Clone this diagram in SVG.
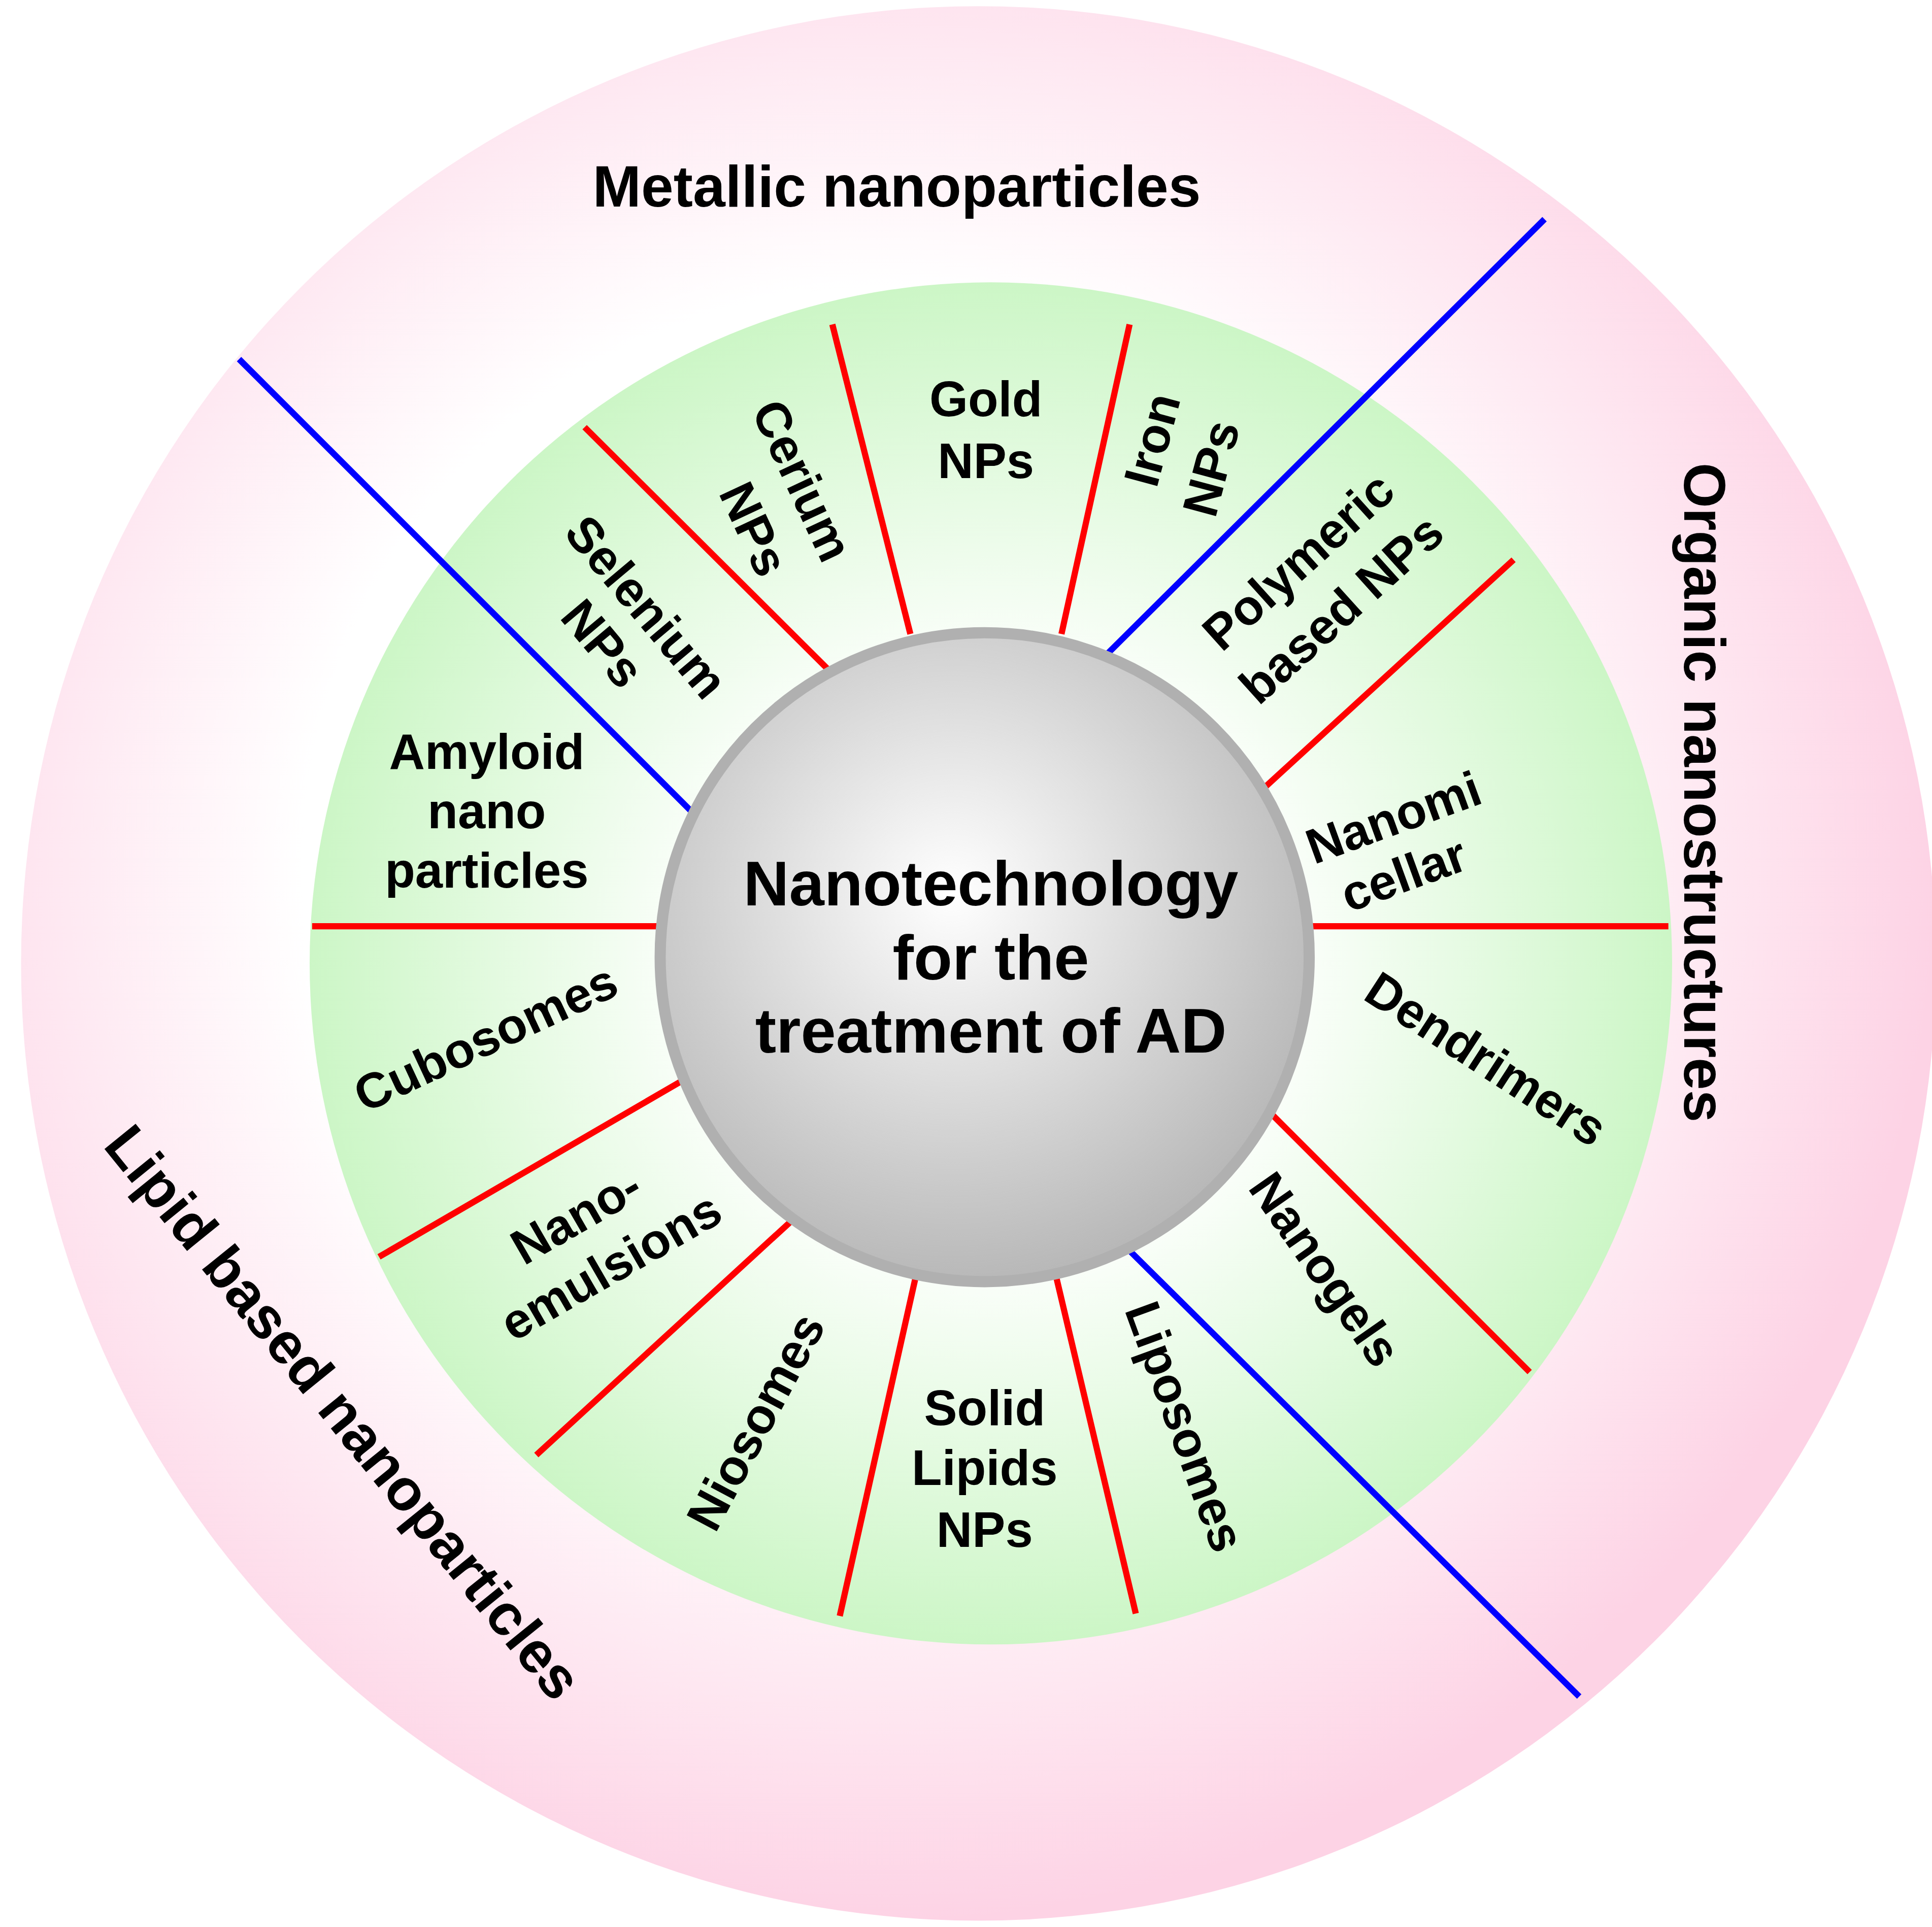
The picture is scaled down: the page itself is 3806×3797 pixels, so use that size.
<svg xmlns="http://www.w3.org/2000/svg" width="3806" height="3797" viewBox="0 0 3806 3797">
<defs>
<radialGradient id="gp" cx="0.45" cy="0.45" r="0.55"><stop offset="0.55" stop-color="#ffffff"/><stop offset="1" stop-color="#fdd3e5"/></radialGradient>
<radialGradient id="gg" cx="0.5" cy="0.5" r="0.5"><stop offset="0.4" stop-color="#ffffff"/><stop offset="1" stop-color="#ccf6c6"/></radialGradient>
<radialGradient id="gc" cx="0.45" cy="0.4" r="0.6"><stop offset="0" stop-color="#ffffff"/><stop offset="1" stop-color="#b8b8b8"/></radialGradient>
<style>
.r{stroke:#ff0000;stroke-width:5;fill:none}
.b{stroke:#0000ff;stroke-width:5;fill:none}
text{font-family:"Liberation Sans",Arial,sans-serif;font-weight:bold;fill:#000;text-anchor:middle}
.s{font-size:40px}
.h{font-size:47px}
</style>
</defs>
<g transform="scale(2.44)">
<g id="outer"><circle cx="790" cy="778" r="773" fill="url(#gp)"/></g>
<g id="ring"><circle cx="800" cy="778" r="550" fill="url(#gg)"/></g>
<g id="connectors">
<line class="r" x1="735" y1="512" x2="672" y2="262"/>
<line class="r" x1="857" y1="512" x2="912" y2="262"/>
<line class="r" x1="668" y1="540" x2="472" y2="345"/>
<line class="r" x1="1022" y1="635" x2="1222" y2="452"/>
<line class="r" x1="1058" y1="748" x2="1347" y2="748"/>
<line class="r" x1="532" y1="748" x2="252" y2="748"/>
<line class="r" x1="1025" y1="898" x2="1235" y2="1108"/>
<line class="r" x1="552" y1="872" x2="306" y2="1015"/>
<line class="r" x1="640" y1="985" x2="433" y2="1175"/>
<line class="r" x1="740" y1="1028" x2="678" y2="1305"/>
<line class="r" x1="852" y1="1028" x2="917" y2="1303"/>
<line class="b" x1="558" y1="655" x2="193" y2="290"/>
<line class="b" x1="890" y1="532" x2="1247" y2="177"/>
<line class="b" x1="910" y1="1008" x2="1275" y2="1370"/>
</g>
<g id="center"><circle cx="795" cy="773" r="262" fill="url(#gc)" stroke="#b0b0b0" stroke-width="9"/>
<text style="font-size:51px"><tspan x="800" y="731">Nanotechnology</tspan><tspan x="800" y="791">for the</tspan><tspan x="800" y="850">treatment of AD</tspan></text></g>
<g id="metallic"><text class="h" x="724" y="167">Metallic nanoparticles</text></g>
<g id="organic"><text class="h" transform="translate(1377,640) rotate(90)" y="17">Organic nanostructures</text></g>
<g id="lipid"><text class="h" transform="translate(278,1140) rotate(51)" y="17">Lipid based nanoparticles</text></g>
<g id="gold"><text class="s"><tspan x="796" y="336">Gold</tspan><tspan x="796" y="386">NPs</tspan></text></g>
<g id="iron"><text class="s" transform="translate(930,355) rotate(-75)"><tspan x="0" y="14">Iron</tspan><tspan x="-10" y="66">NPs</tspan></text></g>
<g id="polymeric"><text class="s" transform="translate(1048,453) rotate(-42)"><tspan x="0" y="14">Polymeric</tspan><tspan x="0" y="66">based NPs</tspan></text></g>
<g id="nanomi"><text class="s" transform="translate(1125,660) rotate(-20)"><tspan x="0" y="14">Nanomi</tspan><tspan x="-8" y="60">cellar</tspan></text></g>
<g id="dendrimers"><text class="s" transform="translate(1200,855) rotate(33)" y="14">Dendrimers</text></g>
<g id="nanogels"><text class="s" transform="translate(1070,1025) rotate(55)" y="14">Nanogels</text></g>
<g id="liposomes"><text class="s" transform="translate(957,1152) rotate(70)" y="14">Liposomes</text></g>
<g id="solid"><text class="s"><tspan x="795" y="1151">Solid</tspan><tspan x="795" y="1199">Lipids</tspan><tspan x="795" y="1249">NPs</tspan></text></g>
<g id="niosomes"><text class="s" transform="translate(610,1148) rotate(-62)" y="14">Niosomes</text></g>
<g id="nanoemulsions"><text class="s" transform="translate(465,982) rotate(-30)"><tspan x="0" y="14">Nano-</tspan><tspan x="4" y="63">emulsions</tspan></text></g>
<g id="cubosomes"><text class="s" transform="translate(392,838) rotate(-25)" y="14">Cubosomes</text></g>
<g id="amyloid"><text class="s"><tspan x="393" y="621">Amyloid</tspan><tspan x="393" y="669">nano</tspan><tspan x="393" y="717">particles</tspan></text></g>
<g id="selenium"><text class="s" transform="translate(522,490) rotate(50)"><tspan x="0" y="14">Selenium</tspan><tspan x="0" y="60">NPs</tspan></text></g>
<g id="cerium"><text class="s" transform="translate(648,388) rotate(65)"><tspan x="0" y="14">Cerium</tspan><tspan x="19" y="66">NPs</tspan></text></g>
</g>
</svg>
